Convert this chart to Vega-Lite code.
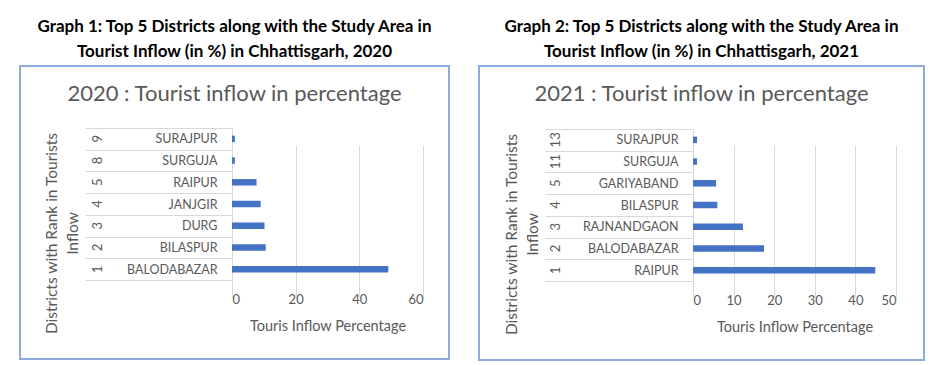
{
  "$schema": "https://vega.github.io/schema/vega-lite/v6.json",
  "background": "white",
  "autosize": {"type": "pad"},
  "padding": {"left": 19, "top": 17, "right": 16, "bottom": 5},
  "config": {
    "font": "Lato",
    "view": {"stroke": "#8faadc", "strokeWidth": 2},
    "concat": {"spacing": 28}
  },
  "datasets": {
    "y2020": [
      {"rank": 9, "district": "SURAJPUR", "pct": 0.9},
      {"rank": 8, "district": "SURGUJA", "pct": 0.9},
      {"rank": 5, "district": "RAIPUR", "pct": 7.7},
      {"rank": 4, "district": "JANJGIR", "pct": 9.0},
      {"rank": 3, "district": "DURG", "pct": 10.2},
      {"rank": 2, "district": "BILASPUR", "pct": 10.6},
      {"rank": 1, "district": "BALODABAZAR", "pct": 49.1}
    ],
    "y2021": [
      {"rank": 13, "district": "SURAJPUR", "pct": 1.0},
      {"rank": 11, "district": "SURGUJA", "pct": 1.0},
      {"rank": 5, "district": "GARIYABAND", "pct": 5.7},
      {"rank": 4, "district": "BILASPUR", "pct": 6.0},
      {"rank": 3, "district": "RAJNANDGAON", "pct": 12.3},
      {"rank": 2, "district": "BALODABAZAR", "pct": 17.5},
      {"rank": 1, "district": "RAIPUR", "pct": 44.9}
    ]
  },
  "hconcat": [
    {
      "width": 429,
      "height": 293,
      "data": {"name": "y2020"},
      "transform": [{"calculate": "datum.rank + '|' + datum.district", "as": "key"}],
      "title": {
        "text": ["Graph 1: Top 5 Districts along with the Study Area in", "Tourist Inflow (in %) in Chhattisgarh, 2020"],
        "subtitle": "2020 : Tourist inflow in percentage",
        "anchor": "middle", "frame": "group", "offset": -46,
        "fontSize": 17, "fontWeight": "bold", "color": "#000000", "lineHeight": 25,
        "subtitleFontSize": 22, "subtitleColor": "#595959", "subtitlePadding": 23, "subtitleFont": "Lato"
      },
      "encoding": {
        "x": {
          "field": "pct", "type": "quantitative",
          "scale": {"domain": [0, 60], "range": [212, 403], "nice": false},
          "axis": {
            "orient": "bottom", "offset": -79, "tickCount": 4, "grid": true, "gridColor": "#d9d9d9",
            "domain": false, "ticks": false, "labelPadding": 13, "labelFontSize": 13, "labelColor": "#595959",
            "title": "Touris Inflow Percentage", "titleFontSize": 14.5, "titleFontWeight": "normal",
            "titleColor": "#595959", "titlePadding": 13
          }
        }
      },
      "layer": [
        {
          "mark": {"type": "bar", "color": "#4472c4", "size": 6.5},
          "encoding": {
            "y": {
              "field": "key", "type": "nominal", "sort": {"field": "rank", "order": "descending"},
              "scale": {"range": [62, 214], "paddingInner": 0, "paddingOuter": 0},
              "axis": {
                "orient": "left", "offset": -212,
                "title": ["Districts with Rank in Tourists", "Inflow"], "titleFontSize": 15.5,
                "titleFontWeight": "normal", "titleColor": "#595959", "titleLineHeight": 21,
                "titleY": 167, "titlePadding": 4,
                "labelExpr": "split(datum.label, '|')[1]", "labelAlign": "right", "labelPadding": -132,
                "labelFontSize": 12.5, "labelColor": "#595959",
                "tickBand": "extent", "tickSize": 147, "tickColor": "#d9d9d9", "domainColor": "#d9d9d9", "grid": false
              }
            }
          }
        },
        {
          "mark": {"type": "bar", "opacity": 0, "size": 6.5},
          "encoding": {
            "y": {
              "field": "key", "type": "nominal", "sort": {"field": "rank", "order": "descending"},
              "axis": {
                "orient": "left", "offset": -212, "title": null,
                "labelExpr": "split(datum.label, '|')[0]", "labelAngle": 270, "labelAlign": "center",
                "labelBaseline": "middle", "labelPadding": 135, "labelFontSize": 13, "labelColor": "#595959",
                "ticks": false, "domain": false, "grid": false
              }
            }
          }
        }
      ],
      "resolve": {"axis": {"y": "independent"}}
    },
    {
      "width": 445,
      "height": 294,
      "data": {"name": "y2021"},
      "transform": [{"calculate": "datum.rank + '|' + datum.district", "as": "key"}],
      "title": {
        "text": ["Graph 2: Top 5 Districts along with the Study Area in", "Tourist Inflow (in %) in Chhattisgarh, 2021"],
        "subtitle": "2021 : Tourist inflow in percentage",
        "anchor": "middle", "frame": "group", "offset": -46,
        "fontSize": 17, "fontWeight": "bold", "color": "#000000", "lineHeight": 25,
        "subtitleFontSize": 22, "subtitleColor": "#595959", "subtitlePadding": 23, "subtitleFont": "Lato"
      },
      "encoding": {
        "x": {
          "field": "pct", "type": "quantitative",
          "scale": {"domain": [0, 50], "range": [214, 417], "nice": false},
          "axis": {
            "orient": "bottom", "offset": -79, "tickCount": 5, "grid": true, "gridColor": "#d9d9d9",
            "domain": false, "ticks": false, "labelPadding": 13, "labelFontSize": 13, "labelColor": "#595959",
            "title": "Touris Inflow Percentage", "titleFontSize": 14.5, "titleFontWeight": "normal",
            "titleColor": "#595959", "titlePadding": 13
          }
        }
      },
      "layer": [
        {
          "mark": {"type": "bar", "color": "#4472c4", "size": 6.5},
          "encoding": {
            "y": {
              "field": "key", "type": "nominal", "sort": {"field": "rank", "order": "descending"},
              "scale": {"range": [63, 215], "paddingInner": 0, "paddingOuter": 0},
              "axis": {
                "orient": "left", "offset": -214,
                "title": ["Districts with Rank in Tourists", "Inflow"], "titleFontSize": 15.5,
                "titleFontWeight": "normal", "titleColor": "#595959", "titleLineHeight": 21,
                "titleY": 168, "titlePadding": 4,
                "labelExpr": "split(datum.label, '|')[1]", "labelAlign": "right", "labelPadding": -133,
                "labelFontSize": 12.5, "labelColor": "#595959",
                "tickBand": "extent", "tickSize": 148, "tickColor": "#d9d9d9", "domainColor": "#d9d9d9", "grid": false
              }
            }
          }
        },
        {
          "mark": {"type": "bar", "opacity": 0, "size": 6.5},
          "encoding": {
            "y": {
              "field": "key", "type": "nominal", "sort": {"field": "rank", "order": "descending"},
              "axis": {
                "orient": "left", "offset": -214, "title": null,
                "labelExpr": "split(datum.label, '|')[0]", "labelAngle": 270, "labelAlign": "center",
                "labelBaseline": "middle", "labelPadding": 138, "labelFontSize": 13, "labelColor": "#595959",
                "ticks": false, "domain": false, "grid": false
              }
            }
          }
        }
      ],
      "resolve": {"axis": {"y": "independent"}}
    }
  ]
}
